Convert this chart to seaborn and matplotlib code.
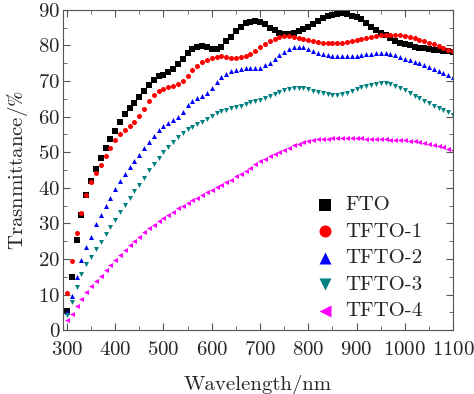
import numpy as np
import pandas as pd
import matplotlib
matplotlib.use('Agg')
import matplotlib.pyplot as plt
from matplotlib.ticker import MultipleLocator
import seaborn as sns

# wavelength grid (nm) and transmittance (%)
wavelength = list(range(300, 1101, 10))

fto = [5.5, 15.0, 25.2, 32.4, 38.0, 42.0, 45.3, 48.4, 51.2, 53.7,
       56.1, 58.6, 60.6, 62.3, 63.9, 65.6, 67.3, 69.0, 70.4, 71.3,
       71.8, 72.5, 73.5, 74.8, 76.2, 77.9, 79.0, 79.7, 79.9, 79.6,
       79.0, 79.0, 79.7, 81.3, 82.5, 84.0, 85.3, 86.2, 86.7, 86.8,
       86.6, 85.9, 85.0, 84.2, 83.5, 83.2, 83.3, 83.6, 84.0, 84.6,
       85.3, 86.1, 86.9, 87.6, 88.2, 88.6, 88.9, 89.0, 88.8, 88.4,
       87.9, 87.3, 86.4, 85.3, 84.4, 83.6, 82.8, 82.0, 81.3, 80.7,
       80.3, 80.0, 79.7, 79.4, 79.2, 79.0, 78.8, 78.7, 78.5, 78.4, 78.2]

tfto1 = [10.5, 19.5, 27.2, 33.0, 38.0, 41.5, 44.3, 46.4, 48.8, 51.1,
         53.3, 55.2, 56.3, 57.3, 58.4, 60.2, 62.1, 64.3, 66.0, 67.2,
         67.8, 68.2, 68.6, 69.1, 70.0, 71.4, 73.0, 74.2, 75.3, 76.0,
         76.5, 76.8, 76.9, 76.8, 76.6, 76.5, 76.7, 77.1, 77.6, 78.5,
         79.6, 80.5, 81.3, 81.9, 82.4, 82.7, 82.7, 82.5, 82.1, 81.7,
         81.4, 81.2, 81.0, 80.8, 80.7, 80.6, 80.6, 80.7, 80.9, 81.2,
         81.5, 81.8, 82.1, 82.4, 82.7, 82.9, 83.0, 83.0, 82.9, 82.8,
         82.6, 82.3, 82.0, 81.6, 81.2, 80.8, 80.4, 79.8, 79.3, 78.8, 78.3]

tfto2 = [5.0, 9.5, 15.0, 19.7, 23.5, 26.2, 29.8, 32.3, 34.9, 37.2,
         39.8, 42.0, 44.0, 45.8, 47.5, 49.3, 51.1, 52.9, 54.6, 56.2,
         57.4, 58.3, 59.1, 60.0, 61.3, 63.3, 64.4, 65.2, 65.8, 66.6,
         68.0, 69.7, 71.0, 72.0, 72.7, 73.2, 73.5, 73.6, 73.6, 73.6,
         73.8, 74.4, 75.2, 76.2, 77.2, 78.2, 79.0, 79.5, 79.7, 79.5,
         79.0, 78.5, 78.0, 77.6, 77.3, 77.1, 77.0, 76.9, 76.9, 77.0,
         77.1, 77.3, 77.5, 77.7, 77.9, 78.0, 77.9, 77.6, 77.2, 76.7,
         76.2, 75.8, 75.4, 75.0, 74.5, 74.0, 73.5, 72.9, 72.3, 71.7, 71.1]

tfto3 = [4.3, 8.0, 12.2, 15.8, 18.6, 20.6, 22.8, 24.8, 27.1, 29.0,
         31.0, 33.1, 35.2, 37.2, 39.2, 40.9, 42.7, 44.9, 46.8, 48.4,
         50.0, 51.6, 53.0, 54.3, 55.5, 56.4, 57.1, 57.8, 58.6, 59.4,
         60.2, 60.9, 61.5, 62.0, 62.4, 62.8, 63.1, 63.5, 64.0, 64.3,
         64.6, 65.1, 65.7, 66.3, 66.9, 67.4, 67.8, 68.0, 68.1, 68.0,
         67.7, 67.3, 66.9, 66.6, 66.3, 66.1, 66.1, 66.3, 66.7, 67.2,
         67.8, 68.3, 68.7, 69.0, 69.3, 69.4, 69.4, 69.2, 68.7, 68.1,
         67.4, 66.6, 65.8, 65.1, 64.4, 63.7, 63.1, 62.5, 61.9, 61.2, 60.5]

tfto4 = [2.8, 4.6, 6.8, 8.7, 10.6, 12.4, 13.8, 15.2, 16.9, 18.3,
         19.7, 21.1, 22.5, 23.9, 25.1, 26.3, 27.5, 28.6, 29.6, 30.6,
         31.5, 32.4, 33.3, 34.2, 35.0, 35.8, 36.5, 37.2, 38.0, 38.8,
         39.5, 40.2, 40.8, 41.5, 42.3, 43.2, 44.0, 44.8, 45.7, 46.6,
         47.4, 48.1, 48.8, 49.5, 50.1, 50.7, 51.3, 51.9, 52.4, 52.8,
         53.1, 53.4, 53.6, 53.7, 53.8, 53.9, 53.9, 53.9, 53.9, 53.9,
         53.9, 53.9, 53.8, 53.8, 53.7, 53.6, 53.6, 53.5, 53.4, 53.4,
         53.3, 53.2, 53.1, 52.9, 52.7, 52.4, 52.1, 51.8, 51.4, 51.0, 50.6]

names = ['FTO', 'TFTO-1', 'TFTO-2', 'TFTO-3', 'TFTO-4']
series = [fto, tfto1, tfto2, tfto3, tfto4]
colors = ['black', 'red', 'blue', '#008080', 'magenta']
markers = ['s', 'o', '^', 'v', '<']

sns.set_style('ticks')
plt.rcParams['font.family'] = ['cmr10', 'DejaVu Serif']
plt.rcParams['mathtext.fontset'] = 'stix'
plt.rcParams['axes.formatter.use_mathtext'] = True
plt.rcParams['axes.unicode_minus'] = False

fig = plt.figure(figsize=(4.74, 3.94), dpi=100)
ax = fig.add_axes([0.133, 0.162, 0.823, 0.813])

for name, vals, c, m in zip(names, series, colors, markers):
    df = pd.DataFrame({'Wavelength': wavelength, 'T': vals})
    sns.scatterplot(data=df, x='Wavelength', y='T', marker=m, color=c,
                    s=13, linewidth=0, label=name, ax=ax)

ax.set_xlim(292, 1100)
ax.set_ylim(0, 90)
ax.xaxis.set_major_locator(MultipleLocator(100))
ax.xaxis.set_minor_locator(MultipleLocator(50))
ax.yaxis.set_major_locator(MultipleLocator(10))
ax.yaxis.set_minor_locator(MultipleLocator(5))
ax.tick_params(which='both', direction='in', top=True, right=True,
               labelsize=15, color='#555555')
ax.tick_params(which='major', length=5)
ax.tick_params(which='minor', length=3)
ax.tick_params(axis='x', pad=8)
ax.tick_params(axis='y', pad=2)
for sp in ax.spines.values():
    sp.set_color('#555555')

ax.set_xlabel('Wavelength/nm', fontsize=15, labelpad=11)
ax.set_ylabel(r'Trasnmittance/$\mathrm{\%}$', fontsize=15, labelpad=6)

ax.legend(loc='lower right', bbox_to_anchor=(0.97, -0.028), frameon=False,
          fontsize=15, markerscale=2.4, handletextpad=0.4, labelspacing=0.38,
          handlelength=1.2)

plt.savefig('out.png', dpi=100)
